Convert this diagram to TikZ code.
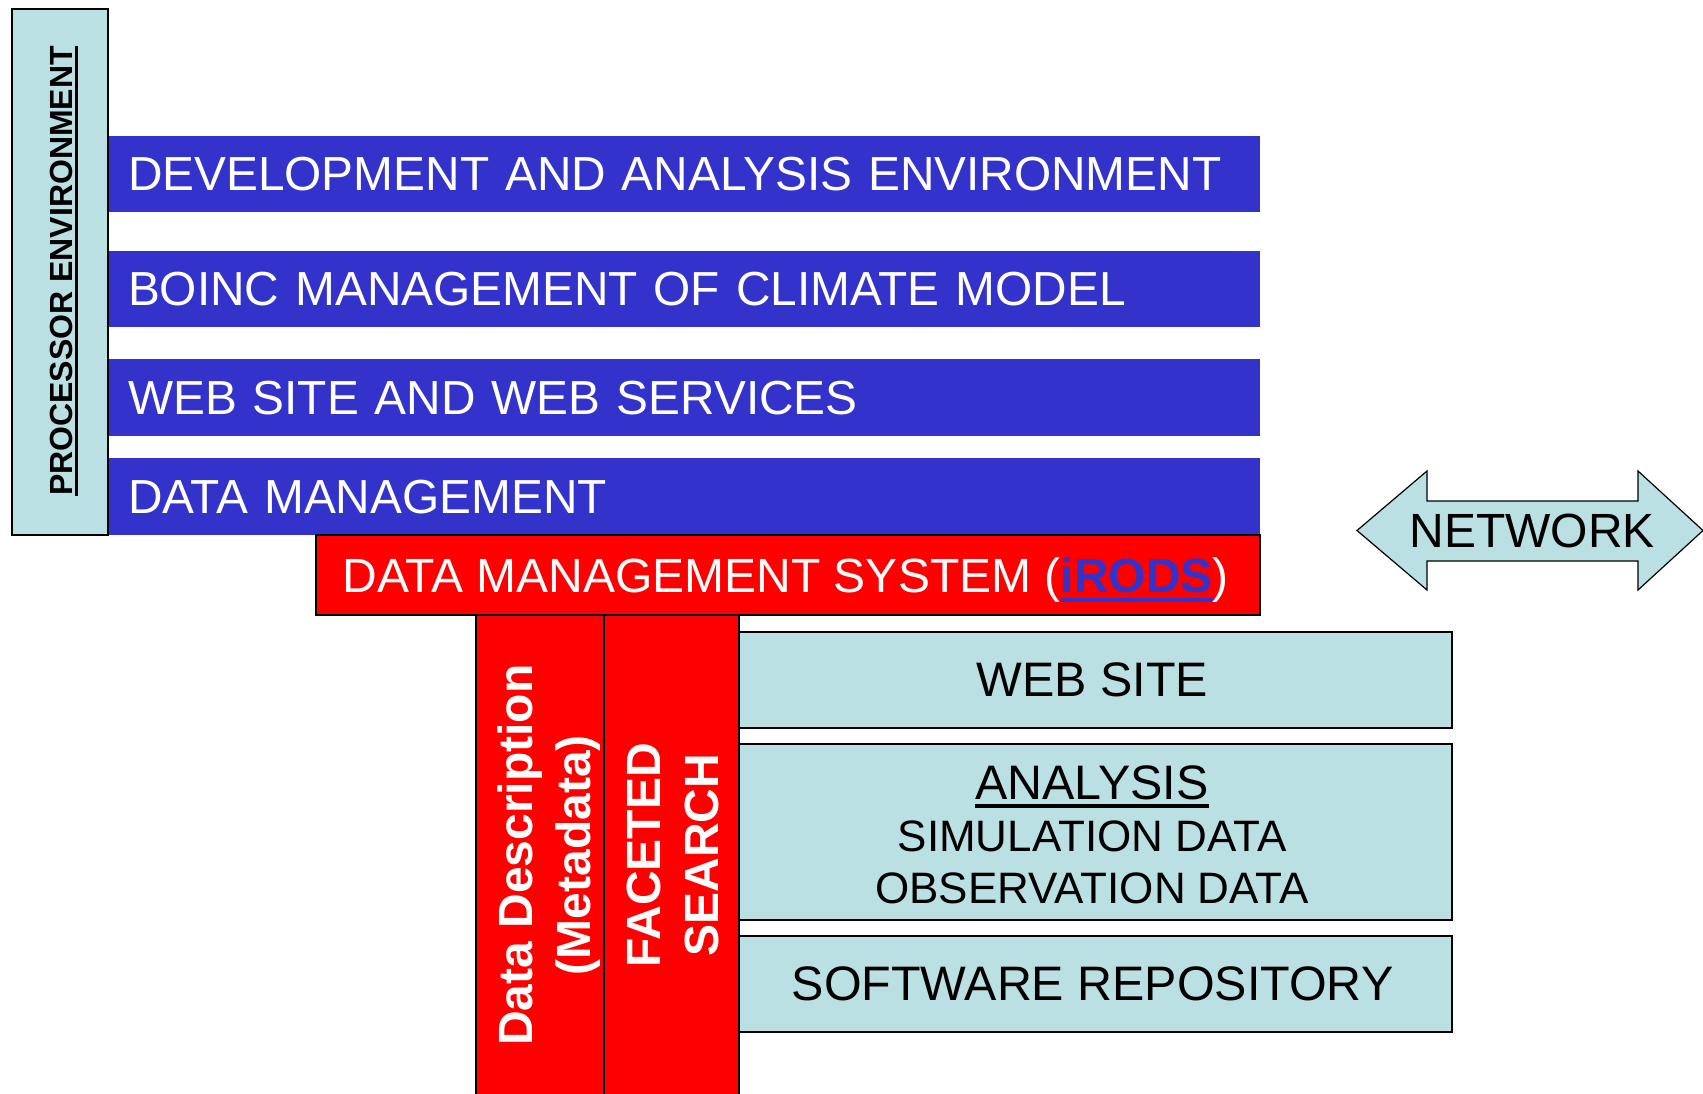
\documentclass[tikz,border=0pt]{standalone}
\usepackage{fontspec}
\setmainfont{Liberation Sans}
\definecolor{barblue}{RGB}{51,51,204}
\definecolor{paleblue}{RGB}{186,224,227}
\definecolor{boxred}{RGB}{255,0,0}
\newcommand\myul[3]{\setbox0=\hbox{#3}\rlap{\rule[#1]{\wd0}{#2}}\box0}
\tikzset{
  base box/.style={anchor=north west, inner sep=0pt, outer sep=0pt},
  bar/.style={base box, fill=barblue, inner xsep=10pt, text width=556pt, minimum width=576pt,
    align=left, text=white, text depth=0pt, font=\fontsize{23.9}{28}\selectfont},
  procbox/.style={base box, fill=paleblue, draw=black, line width=1pt},
  dmsbox/.style={base box, fill=boxred, draw=black, line width=1pt},
  dmstext/.style={anchor=west, inner sep=0pt, text=white, text depth=0pt,
    font=\fontsize{24}{28}\selectfont},
  colbox/.style={base box, fill=boxred, draw=black, line width=1pt},
  coltext/.style={rotate=90, align=center, text=white, inner sep=0pt,
    font=\fontsize{24}{29}\selectfont\bfseries},
  lightbox/.style={base box, fill=paleblue, draw=black, line width=1.2pt,
    minimum width=356.5pt},
  boxtext/.style={inner sep=0pt, font=\fontsize{24.2}{28}\selectfont},
  subtext/.style={anchor=base, inner sep=0pt, font=\fontsize{22}{26}\selectfont},
  arrowshape/.style={fill=paleblue, draw=black, line width=0.6pt},
}
\begin{document}
\begin{tikzpicture}[x=0.5pt,y=-0.5pt]
\clip (0,0) rectangle (1703,1093);
\fill[white] (0,0) rectangle (1703,1093);
% blue bars
\node[bar, minimum height=38pt] (bar1) at (108,136) {DEVELOPMENT AND ANALYSIS ENVIRONMENT};
\node[bar, minimum height=38pt] (bar2) at (108,251) {BOINC MANAGEMENT OF CLIMATE MODEL};
\node[bar, minimum height=38.5pt] (bar3) at (108,359) {WEB SITE AND WEB SERVICES};
\node[bar, minimum height=38.5pt] (bar4) at (108,458) {DATA MANAGEMENT};
% processor environment
\node[procbox, minimum width=48pt, minimum height=263pt] (proc) at (12,9) {};
\node[rotate=90, inner sep=0pt, font=\fontsize{16}{18}\selectfont\bfseries] (proctext) at (64,271)
  {\myul{-2.7pt}{1.3pt}{PROCESSOR ENVIRONMENT}};
% data management system
\node[dmsbox, minimum width=472pt, minimum height=40pt] (dms) at (316,535) {};
\node[dmstext] (dmslabel) at (342,575.5)
  {DATA MANAGEMENT SYSTEM ({\bfseries\color{barblue}\myul{-4.5pt}{2pt}{iRODS}})};
% red columns
\node[colbox, minimum width=64pt, minimum height=250pt] (col1) at (476,615) {};
\node[colbox, minimum width=67.5pt, minimum height=250pt] (col2) at (604,615) {};
\node[coltext] (col1text) at (549.5,855) {Data Description\\(Metadata)};
\node[coltext] (col2text) at (672.5,855) {FACETED\\SEARCH};
% light boxes
\node[lightbox, minimum height=48pt] (web) at (739,632) {};
\node[boxtext] (webtext) at ([xshift=-1.5pt]web.center) {WEB SITE};
\node[lightbox, minimum height=88pt] (ana) at (739,744) {};
\node[subtext, font=\fontsize{24.2}{28}\selectfont] (ana1) at (1092,799) {\myul{-4.3pt}{1.8pt}{ANALYSIS}};
\node[subtext] (ana2) at (1092,851) {SIMULATION DATA};
\node[subtext] (ana3) at (1092,903) {OBSERVATION DATA};
\node[lightbox, minimum height=48pt] (soft) at (739,936) {};
\node[boxtext] (softtext) at ([xshift=-1.5pt]soft.center) {SOFTWARE REPOSITORY};
% network arrow
\draw[arrowshape] (1357,530.5) -- (1427,471) -- (1427,501) -- (1638,501) -- (1638,471)
  -- (1703,530.5) -- (1638,590) -- (1638,561) -- (1427,561) -- (1427,590) -- cycle;
\node[inner sep=0pt, font=\fontsize{24}{28}\selectfont] (net) at (1532,531) {NETWORK};
\end{tikzpicture}
\end{document}
